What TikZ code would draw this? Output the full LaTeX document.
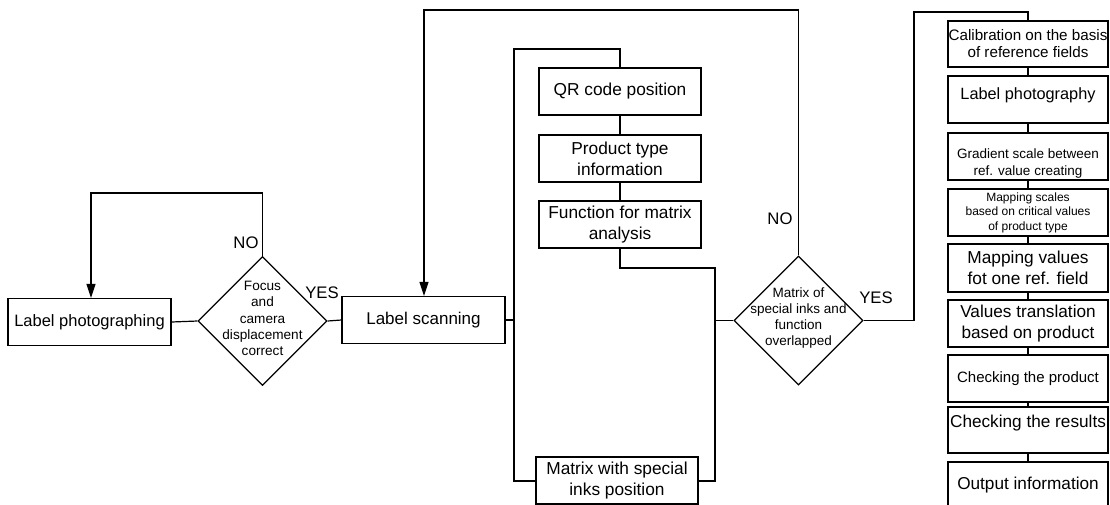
\documentclass[tikz,border=0pt]{standalone}
\usepackage{fontspec}
\setmainfont{Liberation Sans}
\usetikzlibrary{shapes.geometric,arrows.meta}
\begin{document}
\begin{tikzpicture}[x=1pt,y=-1pt,line width=1.2pt,
  every node/.style={inner sep=0pt,align=center},
  lbox/.style={draw,minimum width=163pt,minimum height=47pt,font=\fontsize{17}{20.8}\selectfont},
  mbox/.style={draw,minimum width=162pt,minimum height=47pt,font=\fontsize{17.3}{20.8}\selectfont},
  rbox/.style={draw,minimum width=160pt,minimum height=47pt,font=\fontsize{17.2}{21}\selectfont},
  dia/.style={draw,diamond,minimum width=129pt,minimum height=129pt},
  dtxt/.style={font=\fontsize{13.6}{16.3}\selectfont},
  lab/.style={font=\fontsize{16.7}{20}\selectfont},
  arr/.style={-{Triangle[length=14pt,width=9pt]}}]
\clip (0,0) rectangle (1110,504);
\fill[white] (0,0) rectangle (1110,504);
% left part
\node[lbox,font=\fontsize{16.5}{20}\selectfont] (photo) at (89.5,322) {Label photographing};
\node[dia] (d1) at (262.5,321) {};
\node[dtxt] (d1t) at (262.5,318.5) {Focus\\and\\camera\\displacement\\correct};
\node[lbox] (scan) at (423.5,320) {Label scanning};
% middle
\node[mbox] (qr) at (620,91.5) {QR code position};
\node[mbox] (ptype) at (620,158.5) {Product type\\information};
\node[mbox] (func) at (620,224.5) {Function for matrix\\analysis};
\node[mbox] (mat) at (617,480.5) {Matrix with special\\inks position};
\node[dia] (d2) at (798.5,320.5) {};
\node[dtxt,font=\fontsize{13.5}{16.3}\selectfont] (d2t) at (798.5,318) {Matrix of\\special inks and\\function\\overlapped};
% right column
\node[rbox,minimum height=46pt,font=\fontsize{15.2}{17}\selectfont] (calib) at (1028,44) {Calibration on the basis\\of reference fields};
\node[rbox] (lphoto) at (1028,99.5) {};
\node[font=\fontsize{16.3}{20}\selectfont] (lphotot) at (1028,95) {Label photography};
\node[rbox] (grad) at (1028,156.5) {};
\node[font=\fontsize{13.5}{17.7}\selectfont] (gradt) at (1028,163.5) {Gradient scale between\\ref. value creating};
\node[rbox,font=\fontsize{12}{14.4}\selectfont] (msc) at (1028,212.5) {Mapping scales\\based on critical values\\of product type};
\node[rbox,minimum height=48pt,font=\fontsize{17.3}{21}\selectfont] (mval) at (1028,268) {Mapping values\\fot one ref. field};
\node[rbox] (vtr) at (1028,323.5) {Values translation\\based on product};
\node[rbox,font=\fontsize{15}{18}\selectfont] (cprod) at (1028,378.5) {Checking the product};
\node[rbox,minimum height=46pt] (cres) at (1028,430) {};
\node[font=\fontsize{17.2}{20}\selectfont] (crest) at (1028,423) {Checking the results};
\node[rbox,minimum height=46pt] (out) at (1028,485) {Output information};
% labels
\node[lab] (no1) at (246,243) {NO};
\node[lab] (yes1) at (322,293) {YES};
\node[lab] (no2) at (780,219) {NO};
\node[lab] (yes2) at (876,298) {YES};
% coordinates
\coordinate (c1) at (91,193);
\coordinate (top) at (424,10);
\coordinate (lt) at (514,49);
\coordinate (lb) at (514,481);
\coordinate (rt) at (715,268);
\coordinate (rb) at (715,481);
\coordinate (c3) at (914,12);
% connectors
\draw (photo.east) -- (d1.west);
\draw (d1.east) -- (scan.west);
\draw[arr] (d1.north) |- (c1) -- (c1 |- photo.north);
\draw (scan.east) -- (scan.east -| lt);
\draw (qr.north) |- (lt) -- (lb) -- (lb -| mat.west);
\draw (qr.south) -- (ptype.north);
\draw (ptype.south) -- (func.north);
\draw (func.south) |- (rt) -- (rb) -- (rb -| mat.east);
\draw (rt |- d2.west) -- (d2.west);
\draw[arr] (d2.north) |- (top) -- (top |- scan.north);
\draw (d2.east) -| (c3) -| (calib.north);
\draw (calib.south) -- (lphoto.north);
\draw (lphoto.south) -- (grad.north);
\draw (grad.south) -- (msc.north);
\draw (msc.south) -- (mval.north);
\draw (mval.south) -- (vtr.north);
\draw (vtr.south) -- (cprod.north);
\draw (cprod.south) -- (cres.north);
\draw (cres.south) -- (out.north);
\end{tikzpicture}
\end{document}
